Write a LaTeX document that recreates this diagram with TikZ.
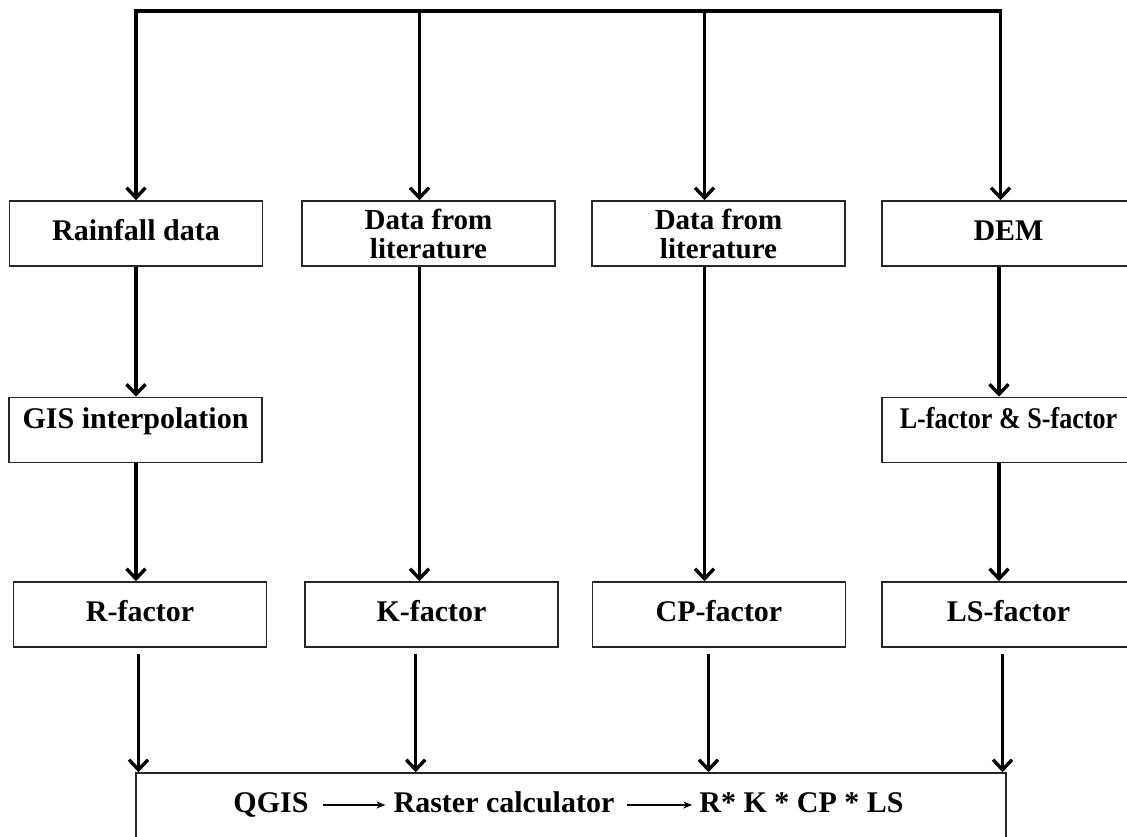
\documentclass[tikz,border=0pt]{standalone}
\usepackage{fontspec}
\setmainfont{Liberation Serif}
\usepackage{graphicx}
\usetikzlibrary{arrows.meta}
\begin{document}
\begin{tikzpicture}[x=1pt,y=-1pt,
  boxbase/.style={draw=black!85, line width=1.6pt, minimum width=253pt, minimum height=65pt,
    inner sep=0pt, font=\fontsize{30}{27}\selectfont\bfseries},
  box/.style={boxbase, text height=19pt, text depth=5pt},
  twobox/.style={boxbase, align=center, font=\fontsize{29}{29}\selectfont\bfseries},
  topbox/.style={boxbase, text height=20pt, text depth=24pt},
  arr/.style={line width=3.4pt, -{Straight Barb[length=10pt,width=19pt]}},
  tarr/.style={line width=1.3pt, -{Stealth[length=9pt,width=7pt]}},
  txt/.style={inner sep=0pt, anchor=base, font=\fontsize{30}{30}\selectfont\bfseries}
]
\useasboundingbox (0,0) rectangle (1127,836);
\clip (0,0) rectangle (1127,836);

% boxes
\node[box] (rain) at (136,233.5) {Rainfall data};
\node[twobox] (lit1) at (428.5,233.5) {Data from\\literature};
\node[twobox] (lit2) at (718.5,233.5) {Data from\\literature};
\node[box] (dem) at (1008.5,233.5) {DEM};
\node[topbox] (gis) at (135.5,430) {GIS interpolation};
\node[topbox] (lsf) at (1008.5,430) {\scalebox{0.87}[1]{L-factor \& S-factor}};
\node[box] (rf) at (140,614.5) {R-factor};
\node[box] (kf) at (431.5,614.5) {K-factor};
\node[box] (cp) at (719,614.5) {CP-factor};
\node[box] (ls) at (1008.5,614.5) {LS-factor};
\node[draw=black!85, line width=1.6pt, minimum width=870pt, minimum height=80pt, inner sep=0pt] (calc) at (571,813) {};

% bottom text
\node[txt] (q) at (271,812) {QGIS};
\node[txt] (rc) at (504,812) {Raster calculator};
\node[txt] (fm) at (801.5,812) {R* K * CP * LS};
\draw[tarr] ([xshift=14pt,yshift=7pt]q.base east) -- ([xshift=-8pt,yshift=7pt]rc.base west);
\draw[tarr] ([xshift=12pt,yshift=7pt]rc.base east) -- ([xshift=-7pt,yshift=7pt]fm.base west);

% top distribution line
\coordinate (t1) at (136,11);
\coordinate (t2) at (419.5,11);
\coordinate (t3) at (704.5,11);
\coordinate (t4) at (1000.5,11);
\draw[arr] (t4) -- (t1) -- (t1 |- rain.north);
\draw[arr] (t1) -- (t4) -- (t4 |- dem.north);
\draw[arr] (t2) -- (t2 |- lit1.north);
\draw[arr] (t3) -- (t3 |- lit2.north);

% column connectors
\draw[arr] (rain.south) -- (rain.south |- gis.north);
\draw[arr] (gis.south -| rain.south) -- (rain.south |- rf.north);
\draw[arr] (t2 |- lit1.south) -- (t2 |- kf.north);
\draw[arr] (t3 |- lit2.south) -- (t3 |- cp.north);
\draw[arr] (999,0 |- dem.south) -- (999,0 |- lsf.north);
\draw[arr] (999,0 |- lsf.south) -- (999,0 |- ls.north);

% to raster calculator
\draw[arr, shorten <=6pt] (138.5,0 |- rf.south) -- (138.5,0 |- calc.north);
\draw[arr, shorten <=6pt] (415.7,0 |- kf.south) -- (415.7,0 |- calc.north);
\draw[arr, shorten <=6pt] (708.5,0 |- cp.south) -- (708.5,0 |- calc.north);
\draw[arr, shorten <=6pt] (1002.5,0 |- ls.south) -- (1002.5,0 |- calc.north);
\end{tikzpicture}
\end{document}
